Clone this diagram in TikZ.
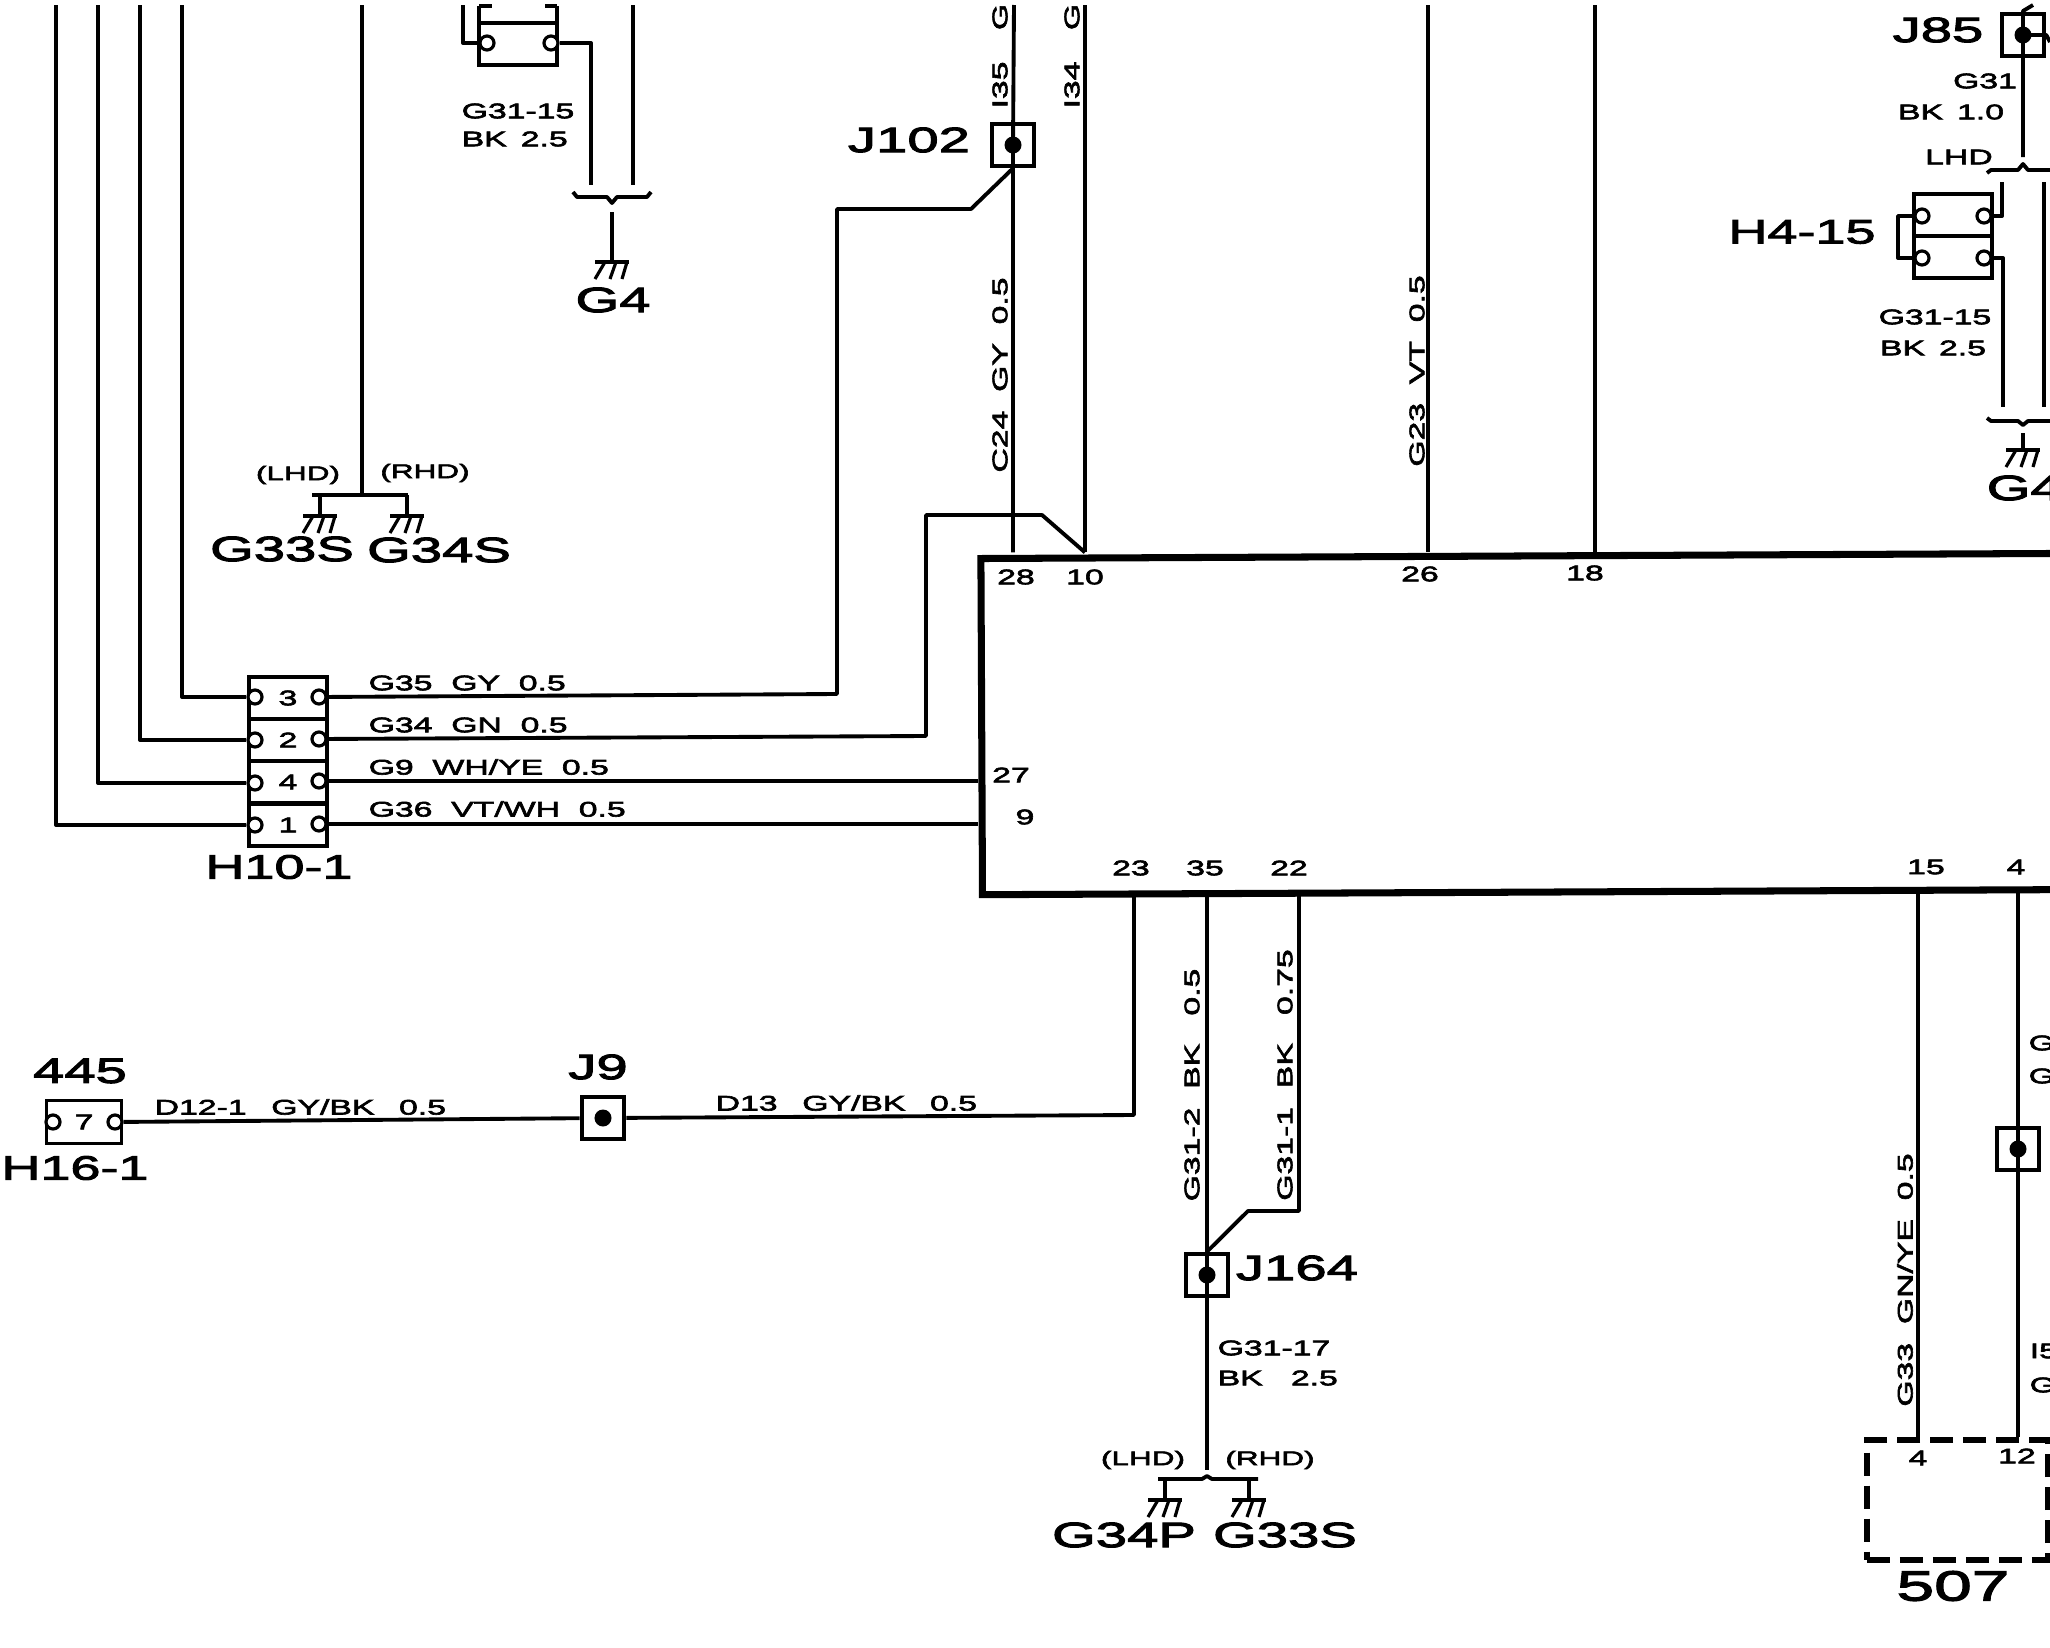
\documentclass[tikz,border=0pt]{standalone}
\usepackage{fontspec}
\newfontfamily\wirefont{Liberation Sans}[FakeStretch=1.6,FakeBold=3]
\newcommand{\wgap}{\hspace{7pt}}
\newcommand{\ngap}{\hspace{4pt}}
\tikzset{
  wire/.style={line width=1.1pt,line join=round},
  thin wire/.style={line width=.9pt,line join=round},
  small/.style={inner sep=0pt,font=\wirefont\fontsize{6}{7}\selectfont},
  hand/.style={inner sep=0pt,font=\wirefont\fontsize{5.6}{7}\selectfont},
  big/.style={inner sep=0pt,font=\wirefont\fontsize{10}{12}\selectfont},
  bigh/.style={inner sep=0pt,font=\wirefont\fontsize{9.6}{12}\selectfont},
  pin/.style={circle,draw,fill=white,minimum size=.14cm,inner sep=0pt,line width=.9pt},
  cell/.style={draw,rectangle,minimum width=.78cm,minimum height=.42cm,inner sep=0pt,line width=1.1pt,font=\wirefont\fontsize{6}{7}\selectfont},
  junction/.style={draw,rectangle,minimum size=.42cm,inner sep=0pt,line width=1.3pt,
    path picture={\fill (path picture bounding box.center) circle (.085cm);}},
  gnd/.pic={
    \draw[wire] (-17,0) -- (17,0);
    \draw[thin wire] (-7,0) -- (-17,17) (4,0) -- (-2,17) (15,0) -- (10,17);
    \coordinate (-top) at (0,0);
  }
}
\begin{document}
\begin{tikzpicture}[x=.01cm,y=-.01cm]
  \useasboundingbox (0,0) rectangle (2050,1648);
  \clip (0,0) rectangle (2050,1648);
  \fill[white] (0,0) rectangle (2050,1648);

  % control unit, runs off the page
  \node[draw,rectangle,line width=2pt,minimum width=11.08cm,minimum height=3.36cm,rotate=.27] (ecu) at (1536,724) {};

  % free ends at the top edge
  \coordinate (t1) at (56,5);
  \coordinate (t2) at (98,5);
  \coordinate (t3) at (140,5);
  \coordinate (t4) at (182,5);
  \coordinate (t5) at (362,5);
  \coordinate (t6) at (633,5);
  \coordinate (t7) at (1014,5);
  \coordinate (t8) at (1085,5);
  \coordinate (t9) at (1428,5);
  \coordinate (t10) at (1595,5);

  % connector H10-1
  \node[cell] (h3) at (288,698) {3};
  \node[cell] (h2) at (288,740) {2};
  \node[cell] (h4) at (288,782) {4};
  \node[cell] (h1) at (288,825) {1};
  \node[pin] (h3l) at (255,697) {};
  \node[pin] (h2l) at (255,740) {};
  \node[pin] (h4l) at (255,783) {};
  \node[pin] (h1l) at (255,825) {};
  \node[pin] (h3r) at (319,697) {};
  \node[pin] (h2r) at (319,739) {};
  \node[pin] (h4r) at (319,781) {};
  \node[pin] (h1r) at (319,824) {};
  \node[bigh] (h10name) at (279,867) {H10-1};

  \draw[wire] (t1) |- (h1l);
  \draw[wire] (t2) |- (h4l);
  \draw[wire] (t3) |- (h2l);
  \draw[wire] (t4) |- (h3l);

  % junctions
  \node[junction] (j102) at (1013,145) {};
  \node[junction] (j9) at (603,1118) {};
  \node[junction] (j164) at (1207,1275) {};
  \node[junction] (j2) at (2018,1149) {};
  \node[junction] (j85) at (2023,35) {};
  \node[big] (j102name) at (909,140) {J102};
  \node[big] (j9name) at (598,1067) {J9};
  \node[big] (j164name) at (1297,1268) {J164};
  \node[big] (j85name) at (1938,30) {J85};

  % wires into the unit
  \coordinate (b1) at (837,694);
  \coordinate (b2) at (837,209);
  \coordinate (b3) at (971,209);
  \coordinate (b4) at (926,736);
  \coordinate (b5) at (926,515);
  \coordinate (b6) at (1042,515);
  \draw[wire] (h3r) -- (b1) -- (b2) -- (b3) -- (j102.south);
  \draw[wire] (h2r) -- (b4) -- (b5) -- (b6) -- (t8 |- ecu.north);
  \draw[wire] (h4r) -- (ecu.west |- h4r);
  \draw[wire] (h1r) -- (ecu.west |- h1r);
  \draw[wire] (t7) -- (j102.center) -- (j102 |- ecu.north);
  \draw[wire] (t8) -- (t8 |- ecu.north);
  \draw[wire] (t9) -- (t9 |- ecu.north);
  \draw[wire] (t10) -- (t10 |- ecu.north);

  \node[small,anchor=west] (l35) at (368,683) {G35~~GY~~0.5};
  \node[small,anchor=west] (l34) at (368,725) {G34~~GN~~0.5};
  \node[small,anchor=west] (l9) at (368,767) {G9~~WH/YE~~0.5};
  \node[small,anchor=west] (l36) at (368,809) {G36~~VT/WH~~0.5};
  \node[small,rotate=90] (lc24) at (1000,375) {C24~~GY~~0.5};
  \node[small,rotate=90] (li35) at (1000,85) {I35};
  \node[small,rotate=90] (lg1) at (1000,17) {G};
  \node[small,rotate=90] (li34) at (1072,85) {I34};
  \node[small,rotate=90] (lg2) at (1072,17) {G};
  \node[small,rotate=90] (lg23) at (1417,371) {G23~~VT~~0.5};

  % pin numbers of the unit
  \node[small] (n28) at (1016,577) {28};
  \node[small] (n10) at (1085,577) {10};
  \node[small] (n26) at (1420,574) {26};
  \node[small] (n18) at (1585,573) {18};
  \node[small] (n27) at (1011,775) {27};
  \node[small] (n9) at (1025,817) {9};
  \node[small] (n23) at (1131,868) {23};
  \node[small] (n35) at (1205,868) {35};
  \node[small] (n22) at (1289,868) {22};
  \node[small] (n15) at (1926,867) {15};
  \node[small] (n4) at (2016,867) {4};

  % connector H16-1 and its wire
  \node[draw,rectangle,minimum width=.75cm,minimum height=.43cm,inner sep=0pt,line width=1.1pt,small] (h16) at (84,1122) {7};
  \node[pin] (h16l) at (53,1122) {};
  \node[pin] (h16r) at (115,1122) {};
  \node[big] (n445) at (80,1071) {445};
  \node[bigh] (h16name) at (75,1168) {H16-1};
  \coordinate (b7) at (1134,1115);
  \draw[wire] (h16r) -- (j9);
  \draw[wire] (j9) -- (b7) -- (b7 |- ecu.south);
  \node[small,anchor=west] (ld12) at (154,1107) {D12-1\wgap GY/BK\wgap 0.5};
  \node[small,anchor=west] (ld13) at (715,1103) {D13\wgap GY/BK\wgap 0.5};

  % lower wires to J164
  \coordinate (b8) at (1299,1211);
  \coordinate (b9) at (1248,1211);
  \coordinate (e1) at (1207,1470);
  \draw[wire] (j164 |- ecu.south) -- (j164.center) -- (e1);
  \draw[wire] (b8 |- ecu.south) -- (b8) -- (b9) -- (j164.north);
  \node[small,rotate=90] (lg312) at (1192,1085) {G31-2~~BK~~~0.5};
  \node[small,rotate=90] (lg311) at (1285,1075) {G31-1~~BK~~~0.75};
  \node[small,anchor=west] (l1) at (1217,1348) {G31-17};
  \node[small,anchor=west] (l2) at (1217,1378) {BK~~~2.5};
  \node[hand] (l3) at (1143,1460) {(LHD)};
  \node[hand] (l4) at (1270,1460) {(RHD)};
  \draw[wire] (1158,1479) -- (1202,1479) -- (1207,1476) -- (1212,1479) -- (1258,1479);
  \pic (g34p) at (1165,1500) {gnd};
  \pic (g33a) at (1249,1500) {gnd};
  \draw[wire] (g34p-top |- e1) ++(0,9) -- (g34p-top);
  \draw[wire] (g33a-top |- e1) ++(0,9) -- (g33a-top);
  \node[big] (l5) at (1124,1535) {G34P};
  \node[big] (l6) at (1285,1535) {G33S};

  % module 507
  \node[draw,rectangle,line width=1.7pt,dash pattern=on 23*.01cm off 10*.01cm,minimum width=1.81cm,minimum height=1.2cm] (m507) at (1957.5,1500) {};
  \coordinate (w15) at (1918,889);
  \coordinate (w4) at (2018,889);
  \draw[wire] (w15) -- (w15 |- m507.north);
  \draw[wire] (w4) -- (j2.center) -- (w4 |- m507.north);
  \node[small] (n4b) at (1918,1458) {4};
  \node[small] (n12) at (2017,1456) {12};
  \node[font=\wirefont\fontsize{12}{14}\selectfont,inner sep=0pt] (l507) at (1953,1586) {507};
  \node[small,rotate=90] (lg33) at (1905,1280) {G33~~GN/YE~~0.5};
  \node[small,anchor=west] (c1) at (2028,1043) {G};
  \node[small,anchor=west] (c2) at (2028,1076) {G};
  \node[small,anchor=west] (c3) at (2029,1351) {I5};
  \node[small,anchor=west] (c4) at (2029,1385) {G};

  % top left relay
  \node[cell] (r1) at (518,44) {};
  \draw[wire] (479,6) -- (479,23) (557,6) -- (557,23) (479,6) -- (492,6) (545,6) -- (557,6);
  \node[pin] (r1l) at (487,43) {};
  \node[pin] (r1r) at (551,43) {};
  \coordinate (r1a) at (463,5);
  \coordinate (r1b) at (591,43);
  \coordinate (r1c) at (591,185);
  \draw[wire] (r1a) |- (r1l);
  \draw[wire] (r1r) -- (r1b) -- (r1c);
  \coordinate (r1d) at (633,185);
  \draw[wire] (t6) -- (r1d);
  \draw[wire] (573,192) -- (577,197) -- (607,197) -- (612,203) -- (617,197) -- (647,197) -- (651,192);
  \coordinate (s1) at (612,212);
  \pic (g4a) at (612,262) {gnd};
  \draw[wire] (s1) -- (g4a-top);
  \node[big] (l7) at (613,300) {G4};
  \node[small,anchor=west] (l8) at (461,111) {G31-15};
  \node[small,anchor=west] (l9b) at (461,139) {BK\ngap 2.5};

  % ground G33S and G34S
  \coordinate (s2) at (362,495);
  \draw[wire] (t5) -- (s2);
  \draw[wire] (312,495) -- (408,495);
  \pic (g33b) at (320,516) {gnd};
  \pic (g34b) at (407,516) {gnd};
  \draw[wire] (320,495) -- (g33b-top);
  \draw[wire] (407,495) -- (g34b-top);
  \node[hand] (l10) at (298,475) {(LHD)};
  \node[hand] (l11) at (425,473) {(RHD)};
  \node[big] (l12) at (282,549) {G33S};
  \node[big] (l13) at (439,550) {G34S};

  % top right, J85 and H4-15
  \coordinate (s3) at (2023,157);
  \draw[wire] (2033,5) -- (2023,11) -- (j85.center) -- (s3);
  \draw[wire] (j85.center) -- (j85.east) -- (2050,42);
  \node[small] (l14) at (1985,81) {G31};
  \node[small] (l15) at (1951,112) {BK\ngap 1.0};
  \node[small] (l16) at (1959,157) {LHD};
  \draw[wire] (1987,173) -- (1991,170) -- (2018,170) -- (2023,164) -- (2028,170) -- (2055,170);
  \node[bigh] (l17) at (1802,232) {H4-15};
  \node[cell] (r2) at (1953,215) {};
  \node[cell] (r3) at (1953,257) {};
  \node[pin] (r2l) at (1922,216) {};
  \node[pin] (r3l) at (1922,258) {};
  \node[pin] (r2r) at (1984,216) {};
  \node[pin] (r3r) at (1984,258) {};
  \coordinate (r2a) at (1898,216);
  \coordinate (r2b) at (1898,258);
  \draw[wire] (r2l) -- (r2a) -- (r2b) -- (r3l);
  \coordinate (r2c) at (2002,216);
  \coordinate (r2d) at (2002,182);
  \draw[wire] (r2r) -- (r2c) -- (r2d);
  \coordinate (r3a) at (2003,258);
  \coordinate (r3b) at (2003,407);
  \draw[wire] (r3r) -- (r3a) -- (r3b);
  \coordinate (r4a) at (2044,182);
  \coordinate (r4b) at (2044,407);
  \draw[wire] (r4a) -- (r4b);
  \node[small] (l18) at (1935,317) {G31-15};
  \node[small] (l19) at (1933,348) {BK\ngap 2.5};
  \draw[wire] (1987,418) -- (1991,421) -- (2018,421) -- (2023,425) -- (2028,421) -- (2055,421);
  \coordinate (s4) at (2023,433);
  \pic (g4b) at (2023,450) {gnd};
  \draw[wire] (s4) -- (g4b-top);
  \node[big,anchor=west] (l20) at (1986,488) {G4};
\end{tikzpicture}
\end{document}
